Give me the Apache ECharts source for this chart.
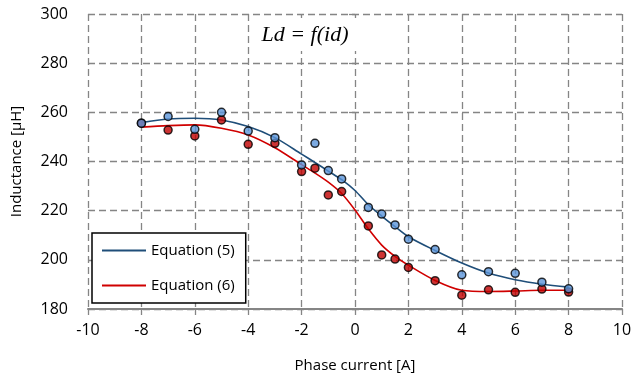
<!DOCTYPE html>
<html>
<head>
<meta charset="utf-8">
<script src="https://cdn.jsdelivr.net/npm/echarts@6/dist/echarts.min.js"></script>
<style>
  html, body { margin: 0; padding: 0; background: #fff; }
  #chart { width: 635px; height: 378px; }
</style>
</head>
<body>
<div id="chart"></div>
<script>
// measured points
var measX = [-8, -7, -6, -5, -4, -3, -2, -1.5, -1, -0.5, 0.5, 1, 1.5, 2, 3, 4, 5, 6, 7, 8];
var measBlue = [255.6, 258.3, 253.1, 260.0, 252.4, 249.7, 238.6, 247.4, 236.3, 232.9, 221.3, 218.6, 214.2, 208.4, 204.2, 193.9, 195.2, 194.5, 190.9, 188.2];
var measRed = [255.6, 252.8, 250.4, 256.9, 247.0, 247.4, 235.9, 237.3, 226.4, 227.8, 213.8, 202.0, 200.3, 196.9, 191.5, 185.6, 187.8, 186.8, 188.1, 186.9];

// fitted curves
var curveX = [-8, -7, -6, -5, -4, -3, -2, -1.5, -1, -0.5, 0, 0.5, 1, 1.5, 2, 3, 4, 5, 6, 7, 8];
var eq5 = [255.8, 257.3, 257.6, 256.9, 254.2, 249.7, 243.0, 239.6, 236.1, 232.6, 228.2, 222.4, 217.8, 213.5, 209.4, 203.8, 198.7, 194.6, 191.9, 190.1, 188.9];
var eq6 = [254.0, 254.6, 254.9, 253.5, 250.8, 245.6, 238.7, 235.3, 231.6, 227.0, 220.3, 212.6, 206.0, 201.4, 197.8, 191.6, 187.6, 187.1, 187.3, 187.6, 187.6];

var seriesNames = ['Equation (5)', 'Equation (6)'];

function pairs(xs, ys) {
  return xs.map(function (x, i) { return [x, ys[i]]; });
}

var chart = echarts.init(document.getElementById('chart'));
var font = 'Open Sans';
var gridLine = { show: true, lineStyle: { color: '#858585', width: 1.3, type: [7, 4] } };

chart.setOption({
  animation: false,
  grid: { left: 88, right: 13, top: 14, bottom: 69 },
  xAxis: {
    type: 'value',
    min: -10, max: 10, interval: 2,
    name: 'Phase current [A]',
    nameLocation: 'middle',
    nameGap: 49,
    nameTextStyle: { color: '#000', fontSize: 15, fontFamily: font },
    axisLine: { show: true, onZero: false, lineStyle: { color: '#858585', width: 2 } },
    axisTick: { show: true, length: 6, lineStyle: { color: '#858585', width: 1.3 } },
    axisLabel: { color: '#000', fontSize: 16, fontFamily: font, margin: 13 },
    splitLine: gridLine
  },
  yAxis: {
    type: 'value',
    min: 180, max: 300, interval: 20,
    name: 'Inductance [μH]',
    nameLocation: 'middle',
    nameGap: 64,
    nameTextStyle: { color: '#000', fontSize: 15, fontFamily: font },
    axisLine: { show: false },
    axisTick: { show: true, length: 6, lineStyle: { color: '#858585', width: 1.3 } },
    axisLabel: { color: '#000', fontSize: 16, fontFamily: font, margin: 20 },
    splitLine: gridLine
  },
  legend: {
    data: seriesNames,
    orient: 'vertical',
    left: 92, top: 233,
    padding: [10, 11, 10, 10],
    itemGap: 20,
    itemWidth: 44,
    itemHeight: 2,
    icon: 'rect',
    backgroundColor: '#fff',
    borderColor: '#000',
    borderWidth: 1.5,
    borderRadius: 0,
    textStyle: { color: '#000', fontSize: 15, fontFamily: font }
  },
  graphic: [
    { type: 'rect', shape: { x: 250, y: 18, width: 116, height: 33 }, style: { fill: '#fff' }, z: 10 },
    {
      type: 'text', x: 305, y: 35, z: 11,
      style: {
        text: 'Ld = f(id)', fill: '#000', font: 'italic 22px "Liberation Serif"',
        align: 'center', verticalAlign: 'middle'
      }
    }
  ],
  series: [
    {
      name: seriesNames[0], type: 'line', smooth: 0.3, symbol: 'none',
      data: pairs(curveX, eq5),
      lineStyle: { color: '#1f4e79', width: 1.6 }, itemStyle: { color: '#1f4e79' }, z: 2
    },
    {
      name: seriesNames[1], type: 'line', smooth: 0.3, symbol: 'none',
      data: pairs(curveX, eq6),
      lineStyle: { color: '#d00000', width: 1.6 }, itemStyle: { color: '#d00000' }, z: 2
    },
    {
      type: 'scatter', symbolSize: 8, data: pairs(measX, measRed),
      itemStyle: { color: '#c00000', borderColor: '#000', borderWidth: 1.5 }, z: 3
    },
    {
      type: 'scatter', symbolSize: 8, data: pairs(measX, measBlue),
      itemStyle: { color: '#5b95d9', borderColor: '#000', borderWidth: 1.5 }, z: 4
    }
  ]
});
</script>
</body>
</html>
